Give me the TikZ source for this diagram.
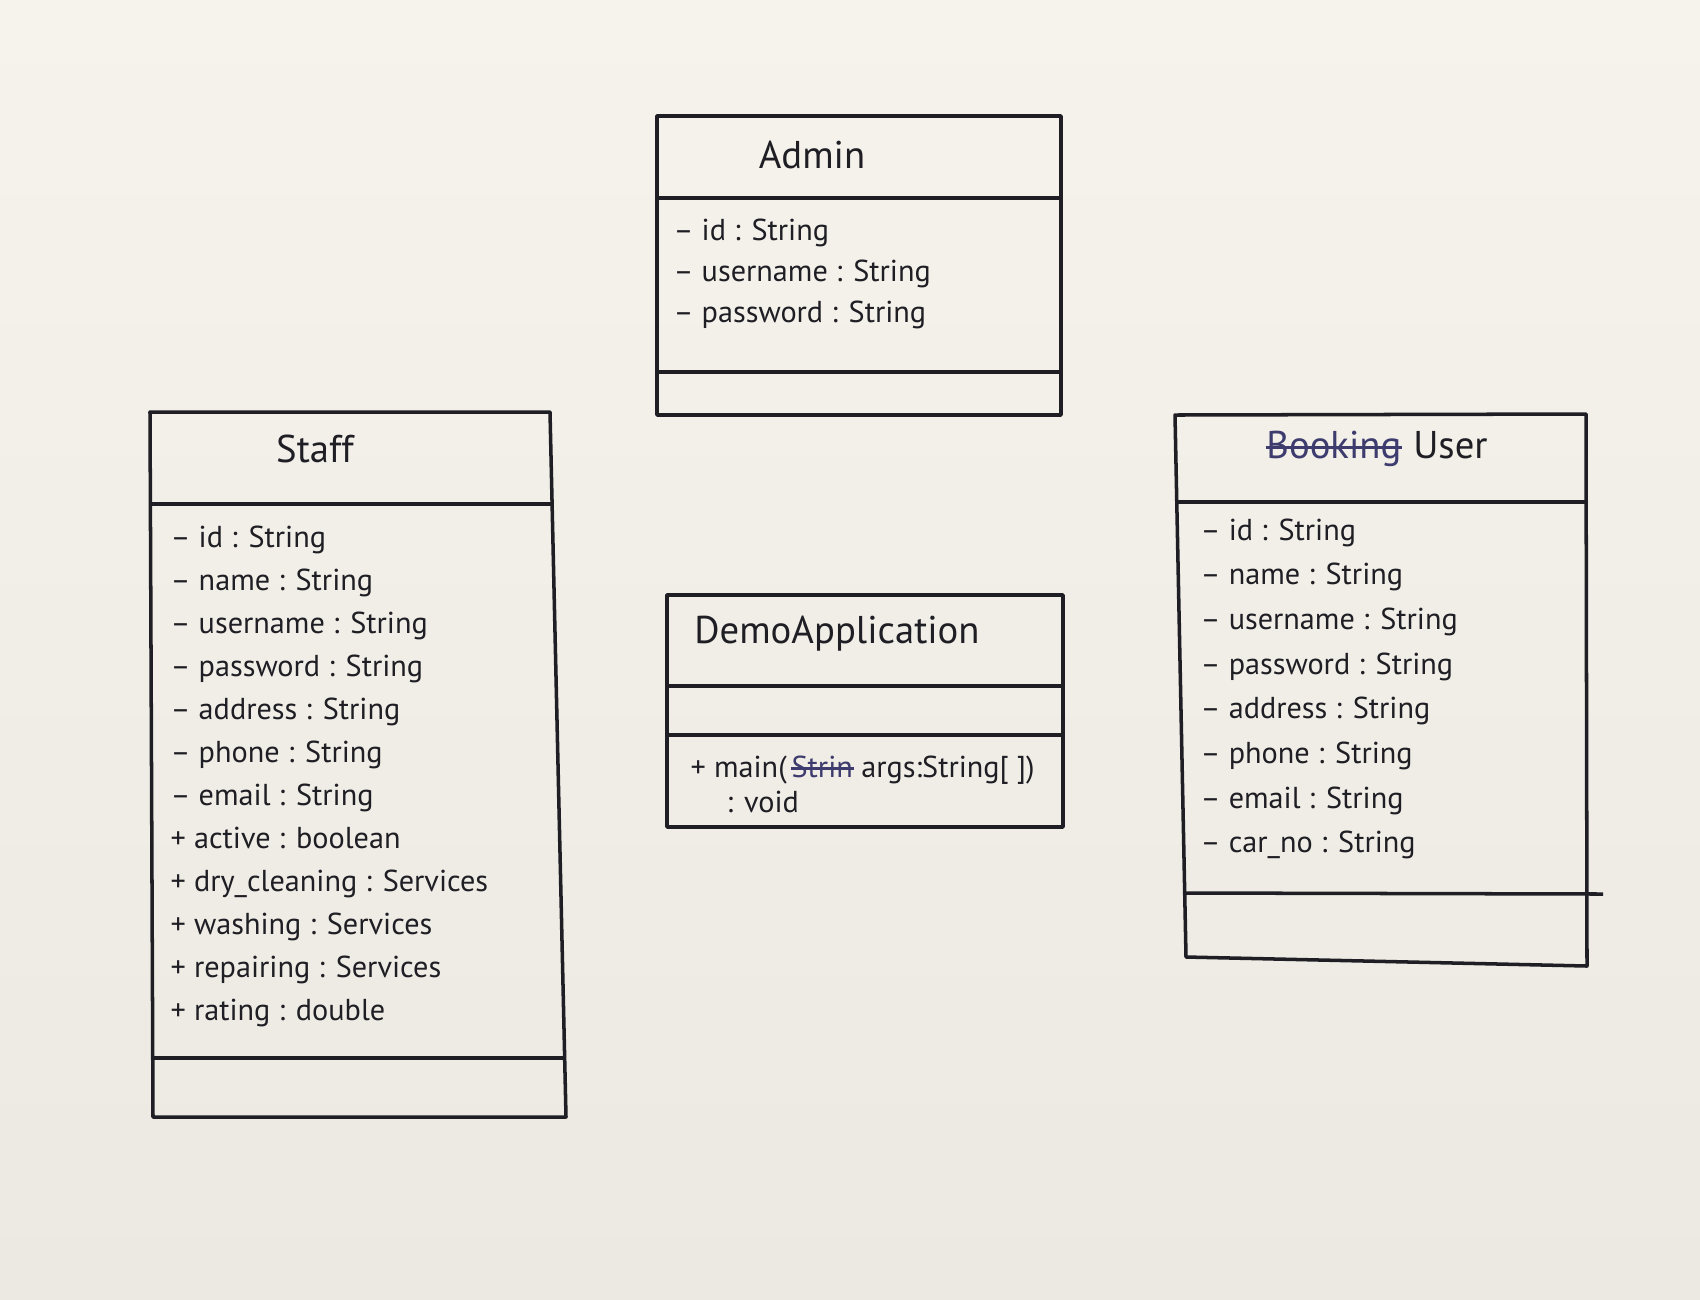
\documentclass[tikz,border=0pt]{standalone}
\usepackage{fontspec}
\setmainfont{PT Sans}
\definecolor{paperTop}{HTML}{F5F3EB}
\definecolor{paperBot}{HTML}{ECE9E2}
\definecolor{inkc}{HTML}{1E1E24}
\definecolor{blueink}{HTML}{3E3C6E}
\begin{document}
\begin{tikzpicture}[x=0.01cm,y=-0.01cm,
  box/.style={draw=inkc,line width=1pt,line join=round},
  rule/.style={draw=inkc,line width=1pt},
  title/.style={font=\fontsize{11}{13}\selectfont,text=inkc,inner sep=0pt,anchor=base},
  attr/.style={font=\fontsize{8.6}{11}\selectfont,text=inkc,inner sep=0pt,anchor=base west},
  struck/.style={font=\fontsize{8.6}{11}\selectfont,text=blueink,inner sep=0pt,anchor=base west},
]
% paper
\shade[top color=paperTop,bottom color=paperBot] (0,0) rectangle (1700,1299);
\useasboundingbox (0,0) rectangle (1700,1299);

% ---------- Admin ----------
\draw[box] (657,116) rectangle (1061,415);
\draw[rule] (657,198) -- (1061,198);
\draw[rule] (657,372) -- (1061,372);
\node[title] (admintitle) at (812,168) {Admin};
\foreach \t [count=\i] in {– id : String, – username : String, – password : String}
  \node[attr] (admin\i) at (673,240+41*\i-41) {\t};

% ---------- Staff ----------
\draw[box] (150,412) -- (550,412) -- (566,1117) -- (153,1117) -- cycle;
\draw[rule] (150,504) -- (552,504);
\draw[rule] (152,1058) -- (565,1058);
\node[title] (stafftitle) at (315,462) {Staff};
\foreach \t [count=\i] in {– id : String, – name : String, – username : String,
    – password : String, – address : String, – phone : String, – email : String,
    + active : boolean, + dry\_cleaning : Services, + washing : Services,
    + repairing : Services, + rating : double}
  \node[attr] (staff\i) at (170,547+43*\i-43) {\t};

% ---------- User ----------
\draw[box] (1175,415) -- (1586,414) -- (1587,966) -- (1186,957) -- cycle;
\draw[rule] (1176,502) -- (1586,502);
\draw[rule] (1184,893) -- (1603,894);
\node[title,anchor=base east,text=blueink] (bookingword) at (1402,458) {Booking};
\draw[blueink,line width=0.9pt] ([yshift=3pt]bookingword.base west) -- ([yshift=3pt]bookingword.base east);
\node[title,anchor=base west] (usertitle) at ([xshift=3pt]bookingword.base east) {User};
\foreach \t [count=\i] in {– id : String, – name : String, – username : String,
    – password : String, – address : String, – phone : String, – email : String,
    – car\_no : String}
  \node[attr] (user\i) at (1200,540+44.7*\i-44.7) {\t};

% ---------- DemoApplication ----------
\draw[box] (667,595) rectangle (1063,827);
\draw[rule] (667,686) -- (1063,686);
\draw[rule] (667,735) -- (1063,735);
\node[title] (demotitle) at (837,643) {DemoApplication};
\node[attr] (main1) at (690,777) {+ main(};
\node[struck] (main2) at ([xshift=1pt]main1.base east) {Strin};
\draw[blueink,line width=0.8pt] ([yshift=2.5pt]main2.base west) -- ([yshift=2.5pt]main2.base east);
\node[attr] (main3) at ([xshift=2pt]main2.base east) {args:String[ ])};
\node[attr] (main4) at (726,812) {: void};
\end{tikzpicture}
\end{document}
